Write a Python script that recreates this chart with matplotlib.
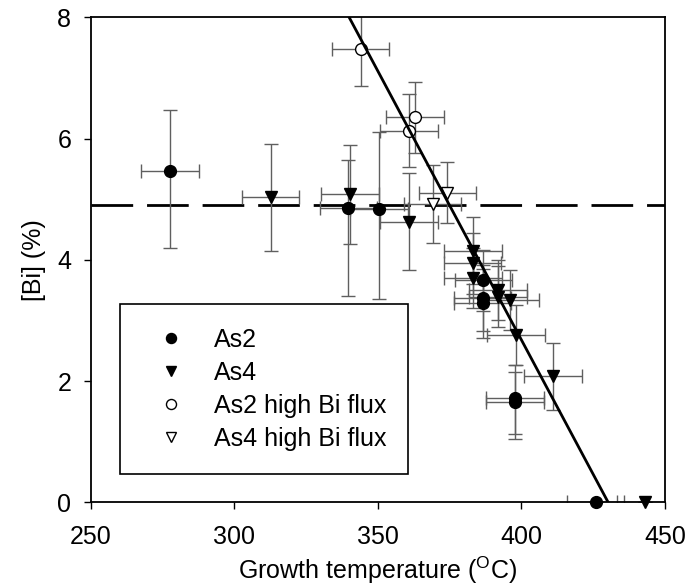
import matplotlib
matplotlib.use("Agg")
import matplotlib.pyplot as plt

plt.rcParams['font.family'] = ['Liberation Sans', 'DejaVu Sans']
plt.rcParams['mathtext.fontset'] = 'custom'
plt.rcParams['mathtext.rm'] = 'Liberation Sans'
plt.rcParams['font.size'] = 18

# growth temperature (C) and Bi content (%)
as2_t = [277.6, 339.7, 350.4, 386.7, 386.5, 386.5, 397.7, 397.7, 425.8]
as2_bi = [5.46, 4.85, 4.84, 3.66, 3.37, 3.28, 1.72, 1.65, 0.0]
as2_lo = [1.27, 1.45, 1.49, 0.5, 0.55, 0.57, 0.6, 0.6, 0.0]
as2_hi = [1.01, 0.79, 1.26, 0.5, 0.55, 0.57, 0.55, 0.5, 0.0]

as4_t = [312.7, 340.3, 360.9, 383.2, 383.0, 383.2, 391.9, 391.9, 396.0, 398.1, 411.0, 443.2]
as4_bi = [5.03, 5.08, 4.63, 4.15, 3.94, 3.70, 3.50, 3.39, 3.34, 2.76, 2.08, 0.0]
as4_err = [0.88, 0.82, 0.8, 0.55, 0.5, 0.5, 0.5, 0.5, 0.5, 0.5, 0.55, 0.0]

as2hi_t = [344.0, 362.9, 360.8]
as2hi_bi = [7.47, 6.35, 6.13]
as2hi_err = [0.61, 0.59, 0.6]

as4hi_t = [369.1, 374.2]
as4hi_bi = [4.92, 5.11]
as4hi_err = [0.64, 0.5]

t_err = 10

fit_t = [340.0, 430.2]
fit_bi = [8.0, 0.0]
bi_limit = 4.9

fig = plt.figure(figsize=(6.88, 5.88), dpi=100)
ax = fig.add_axes([0.1318, 0.1457, 0.8348, 0.8249])

ax.axhline(bi_limit, color='black', lw=2, dashes=(15, 5), zorder=1)

eb = dict(fmt='none', ecolor='#5f5f5f', elinewidth=1.0, capsize=5, capthick=1.0, zorder=2)
ax.errorbar(as2_t, as2_bi, yerr=[as2_lo, as2_hi], xerr=t_err, **eb)
ax.errorbar(as4_t, as4_bi, yerr=as4_err, xerr=t_err, **eb)
ax.errorbar(as2hi_t, as2hi_bi, yerr=as2hi_err, xerr=t_err, **eb)
ax.errorbar(as4hi_t, as4hi_bi, yerr=as4hi_err, xerr=t_err, **eb)

ms = 8.5
h1, = ax.plot(as2_t, as2_bi, 'o', color='black', ms=ms, zorder=4, clip_on=False, label='As2')
h2, = ax.plot(as4_t, as4_bi, 'v', color='black', ms=ms, zorder=4, clip_on=False, label='As4')
h3, = ax.plot(as2hi_t, as2hi_bi, 'o', mfc='white', mec='black', mew=1, ms=ms, zorder=4,
              label='As2 high Bi flux')
h4, = ax.plot(as4hi_t, as4hi_bi, 'v', mfc='white', mec='black', mew=1, ms=ms, zorder=4,
              label='As4 high Bi flux')

ax.plot(fit_t, fit_bi, color='black', lw=2, zorder=5)

ax.set_xlim(250, 450)
ax.set_ylim(0, 8)
ax.set_xticks([250, 300, 350, 400, 450])
ax.set_yticks([0, 2, 4, 6, 8])
ax.tick_params(direction='out', length=5, width=1, top=False, right=False)
ax.tick_params(axis='x', pad=11)
ax.tick_params(axis='y', pad=9)
for s in ax.spines.values():
    s.set_linewidth(1.3)

ax.set_xlabel(r'Growth temperature ($^{\mathrm{O}}$C)', labelpad=4)
ax.set_ylabel('[Bi] (%)', labelpad=8)

leg = ax.legend(handles=[h1, h2, h3, h4], loc='lower left',
                bbox_to_anchor=(0.051, 0.0577, 0.502, 0.352), mode='expand',
                fancybox=False, edgecolor='black', framealpha=1,
                borderpad=0.95, labelspacing=0.36, handlelength=2.2, handletextpad=0.6,
                borderaxespad=0, markerscale=0.85)
leg.get_frame().set_linewidth(1.2)

fig.savefig('out.png', dpi=100)
